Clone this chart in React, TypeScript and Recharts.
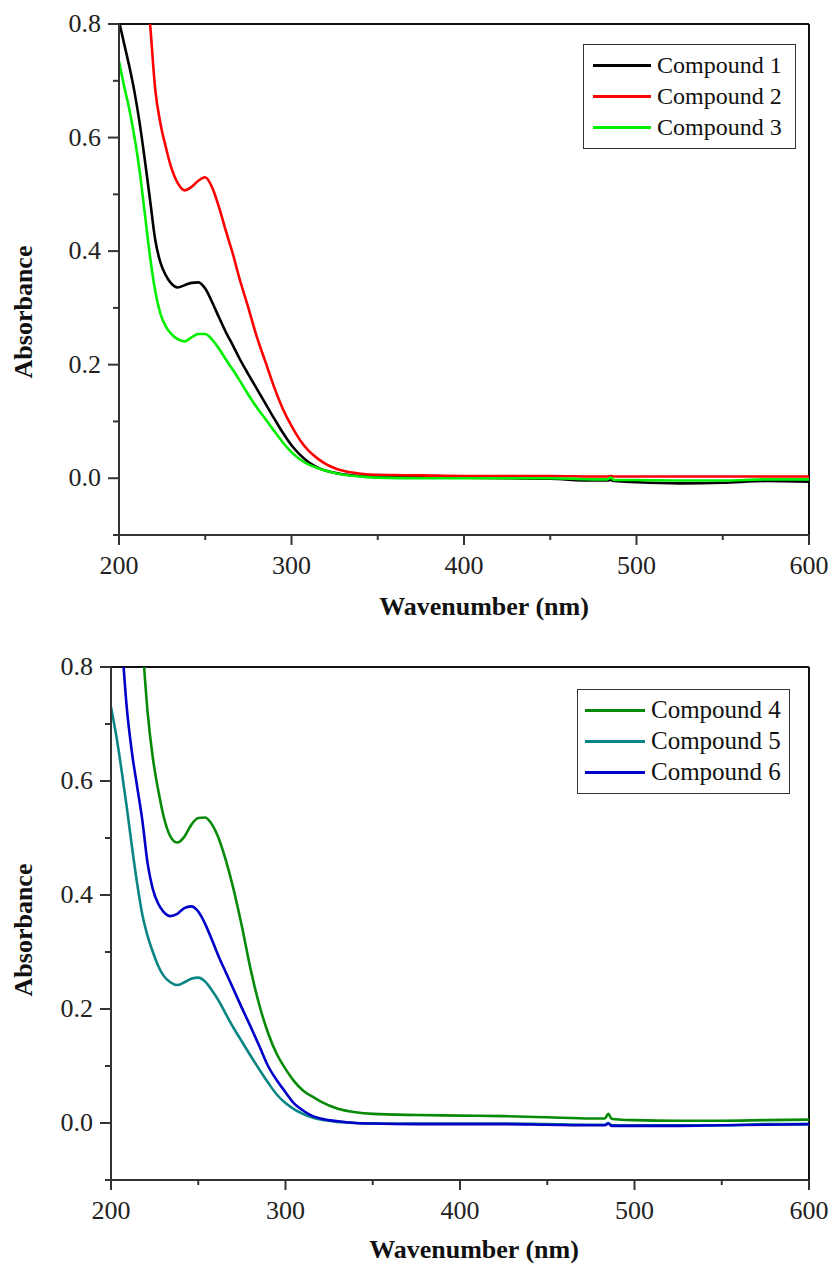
import React from 'react';
import { LineChart, Line, XAxis, YAxis, ReferenceLine, Legend } from 'recharts';

const FONT = '"Liberation Serif", "Times New Roman", Times, serif';

const wavelengths = [200, 203, 206, 209, 212, 215, 218, 221, 224, 227, 230, 234, 238, 242, 246, 250, 254, 258, 262, 266, 270, 275, 280, 285, 290, 295, 300, 305, 310, 315, 320, 330, 340, 350, 375, 400, 425, 450, 475, 483, 485, 487, 500, 525, 550, 575, 600];

const compound1 = [0.805, 0.765, 0.725, 0.68, 0.625, 0.56, 0.49, 0.42, 0.38, 0.358, 0.344, 0.336, 0.34, 0.344, 0.345, 0.334, 0.31, 0.283, 0.257, 0.234, 0.21, 0.183, 0.157, 0.131, 0.105, 0.08, 0.058, 0.041, 0.028, 0.019, 0.013, 0.007, 0.004, 0.003, 0.002, 0.001, 0.0, -0.001, -0.004, -0.004, -0.003, -0.005, -0.007, -0.009, -0.008, -0.005, -0.006];
const compound2 = [1.35, 1.25, 1.15, 1.05, 0.97, 0.89, 0.8, 0.685, 0.625, 0.585, 0.55, 0.52, 0.507, 0.513, 0.524, 0.53, 0.512, 0.477, 0.435, 0.395, 0.35, 0.3, 0.248, 0.204, 0.16, 0.122, 0.092, 0.067, 0.048, 0.035, 0.025, 0.013, 0.008, 0.006, 0.005, 0.004, 0.004, 0.004, 0.003, 0.003, 0.004, 0.003, 0.003, 0.003, 0.003, 0.003, 0.003];
const compound3 = [0.735, 0.69, 0.65, 0.6, 0.54, 0.465, 0.39, 0.33, 0.29, 0.268, 0.255, 0.245, 0.241, 0.248, 0.254, 0.254, 0.244, 0.228, 0.209, 0.191, 0.172, 0.147, 0.124, 0.104, 0.083, 0.063, 0.046, 0.033, 0.024, 0.018, 0.013, 0.006, 0.003, 0.001, 0.0, 0.0, 0.0, 0.0, -0.002, -0.002, 0.001, -0.003, -0.003, -0.004, -0.004, -0.002, -0.002];
const compound4 = [1.5, 1.4, 1.3, 1.2, 1.08, 0.95, 0.84, 0.72, 0.64, 0.585, 0.54, 0.503, 0.492, 0.502, 0.523, 0.535, 0.536, 0.523, 0.497, 0.459, 0.413, 0.345, 0.27, 0.207, 0.158, 0.121, 0.095, 0.073, 0.057, 0.047, 0.038, 0.025, 0.019, 0.016, 0.014, 0.013, 0.012, 0.01, 0.008, 0.008, 0.016, 0.007, 0.005, 0.004, 0.004, 0.005, 0.006];
const compound5 = [0.73, 0.68, 0.62, 0.555, 0.485, 0.42, 0.365, 0.328, 0.3, 0.276, 0.259, 0.247, 0.242, 0.247, 0.253, 0.255, 0.248, 0.232, 0.213, 0.19, 0.168, 0.143, 0.118, 0.094, 0.071, 0.05, 0.035, 0.024, 0.016, 0.01, 0.006, 0.002, 0.0, -0.001, -0.001, -0.001, -0.001, -0.002, -0.003, -0.003, 0.0, -0.004, -0.004, -0.004, -0.004, -0.002, -0.002];
const compound6 = [1.05, 0.95, 0.85, 0.73, 0.65, 0.59, 0.53, 0.455, 0.41, 0.385, 0.371, 0.363, 0.367, 0.377, 0.38, 0.371, 0.349, 0.32, 0.29, 0.263, 0.236, 0.202, 0.169, 0.135, 0.1, 0.075, 0.054, 0.034, 0.022, 0.013, 0.008, 0.003, 0.0, -0.001, -0.002, -0.002, -0.002, -0.003, -0.004, -0.004, -0.001, -0.005, -0.005, -0.005, -0.004, -0.003, -0.002];

const xTicks = [200, 250, 300, 350, 400, 450, 500, 550, 600];
const yTicks = [-0.1, 0, 0.1, 0.2, 0.3, 0.4, 0.5, 0.6, 0.7, 0.8];

const xTitle = 'Wavenumber (nm)';
const yTitle = 'Absorbance';

const topSeries = [
  { key: 'c1', name: 'Compound 1', color: '#000000' },
  { key: 'c2', name: 'Compound 2', color: '#ff0000' },
  { key: 'c3', name: 'Compound 3', color: '#00ee00' },
];
const bottomSeries = [
  { key: 'c4', name: 'Compound 4', color: '#078a07' },
  { key: 'c5', name: 'Compound 5', color: '#0a8585' },
  { key: 'c6', name: 'Compound 6', color: '#0000c8' },
];

const topData = wavelengths.map((w, i) => ({ w, c1: compound1[i], c2: compound2[i], c3: compound3[i] }));
const bottomData = wavelengths.map((w, i) => ({ w, c4: compound4[i], c5: compound5[i], c6: compound6[i] }));

const AXIS_COLOR = '#333';

const XTick = (props: any) => {
  const { x, y, payload } = props;
  const v = payload.value;
  const major = v % 100 === 0;
  return (
    <g>
      <line x1={x} x2={x} y1={y} y2={y + (major ? 10 : 5)} stroke={AXIS_COLOR} strokeWidth={2} />
      {major && (
        <text x={x} y={y + 39} textAnchor="middle" fontFamily={FONT} fontSize={26} fill="#222">
          {v}
        </text>
      )}
    </g>
  );
};

const YTick = (props: any) => {
  const { x, y, payload } = props;
  const v = payload.value;
  const k = Math.round(v * 10);
  const major = k >= 0 && k % 2 === 0;
  return (
    <g>
      <line x1={x} x2={x - (major ? 11 : 6)} y1={y} y2={y} stroke={AXIS_COLOR} strokeWidth={2} />
      {major && (
        <text x={x - 18} y={y + 8} textAnchor="end" fontFamily={FONT} fontSize={26} fill="#222">
          {v.toFixed(1)}
        </text>
      )}
    </g>
  );
};

type Cfg = {
  top: number;
  height: number;
  plotTop: number;
  plotBottom: number;
  plotLeft: number;
  xTitleX: number;
  xTitleY: number;
  yTitleX: number;
  yTitleY: number;
  legendLeft: number;
  legendTop: number;
  legendLineLeft: number;
  legendLineLen: number;
  legendFont: number;
};

const makeLegend = (cfg: Cfg) => (props: any) => {
  const payload = props.payload || [];
  return (
    <div
      style={{
        width: 213,
        height: 105,
        border: '1.5px solid #333',
        boxSizing: 'border-box',
        background: '#fff',
        position: 'relative',
      }}
    >
      {payload.map((e: any, i: number) => (
        <div
          key={i}
          style={{
            position: 'absolute',
            left: cfg.legendLineLeft,
            top: 20 + i * 31 - 15,
            height: 30,
            display: 'flex',
            alignItems: 'center',
            whiteSpace: 'nowrap',
          }}
        >
          <div style={{ width: cfg.legendLineLen, height: 3, background: e.color }} />
          <span style={{ marginLeft: 6, fontSize: cfg.legendFont, fontFamily: FONT, color: '#111', lineHeight: '30px' }}>
            {e.value}
          </span>
        </div>
      ))}
    </div>
  );
};

function Chart({ data, series, cfg }: { data: any[]; series: typeof topSeries; cfg: Cfg }) {
  const yAxisWidth = 100;
  const xAxisHeight = 60;
  return (
    <div style={{ position: 'absolute', left: 0, top: cfg.top, width: 832, height: cfg.height }}>
      <LineChart
        width={832}
        height={cfg.height}
        data={data}
        margin={{
          top: cfg.plotTop,
          right: 23,
          bottom: cfg.height - cfg.plotBottom - xAxisHeight,
          left: cfg.plotLeft - yAxisWidth,
        }}
      >
        <XAxis
          dataKey="w"
          type="number"
          domain={[200, 600]}
          ticks={xTicks}
          interval={0}
          height={xAxisHeight}
          tickSize={0}
          tickMargin={0}
          tickLine={false}
          tick={XTick}
          axisLine={{ stroke: AXIS_COLOR, strokeWidth: 2 }}
          label={{
            value: xTitle,
            content: () => (
              <text x={cfg.xTitleX} y={cfg.xTitleY} textAnchor="middle" fontFamily={FONT} fontWeight="bold" fontSize={26} fill="#111">
                {xTitle}
              </text>
            ),
          }}
        />
        <YAxis
          type="number"
          domain={[-0.1, 0.8]}
          allowDataOverflow
          ticks={yTicks}
          interval={0}
          width={yAxisWidth}
          tickSize={0}
          tickMargin={0}
          tickLine={false}
          tick={YTick}
          axisLine={{ stroke: AXIS_COLOR, strokeWidth: 2 }}
          label={{
            value: yTitle,
            content: () => (
              <text
                x={cfg.yTitleX}
                y={cfg.yTitleY}
                transform={`rotate(-90 ${cfg.yTitleX} ${cfg.yTitleY})`}
                textAnchor="middle"
                fontFamily={FONT}
                fontWeight="bold"
                fontSize={26}
                fill="#111"
              >
                {yTitle}
              </text>
            ),
          }}
        />
        <ReferenceLine y={0.8} stroke="#111" strokeWidth={2} />
        <ReferenceLine x={600} stroke="#111" strokeWidth={2} />
        {series.map((s) => (
          <Line
            key={s.key}
            dataKey={s.key}
            name={s.name}
            type="monotone"
            stroke={s.color}
            strokeWidth={2.6}
            dot={false}
            activeDot={false}
            isAnimationActive={false}
          />
        ))}
        <Legend
          layout="vertical"
          align="center"
          verticalAlign="middle"
          wrapperStyle={{ left: cfg.legendLeft, top: cfg.legendTop, width: 213, height: 105 }}
          content={makeLegend(cfg)}
        />
      </LineChart>
    </div>
  );
}

const topCfg: Cfg = {
  top: 0,
  height: 640,
  plotTop: 24,
  plotBottom: 535,
  plotLeft: 119,
  xTitleX: 484,
  xTitleY: 615,
  yTitleX: 32,
  yTitleY: 312,
  legendLeft: 583,
  legendTop: 44,
  legendLineLeft: 9,
  legendLineLen: 58,
  legendFont: 24,
};

const bottomCfg: Cfg = {
  top: 640,
  height: 627,
  plotTop: 27,
  plotBottom: 540,
  plotLeft: 111,
  xTitleX: 474,
  xTitleY: 618,
  yTitleX: 32,
  yTitleY: 290,
  legendLeft: 577,
  legendTop: 49,
  legendLineLeft: 7,
  legendLineLen: 60,
  legendFont: 25,
};

export default function App() {
  return (
    <div style={{ position: 'absolute', left: 0, top: 0, width: 832, height: 1267, background: '#fff' }}>
      <Chart data={topData} series={topSeries} cfg={topCfg} />
      <Chart data={bottomData} series={bottomSeries} cfg={bottomCfg} />
    </div>
  );
}
